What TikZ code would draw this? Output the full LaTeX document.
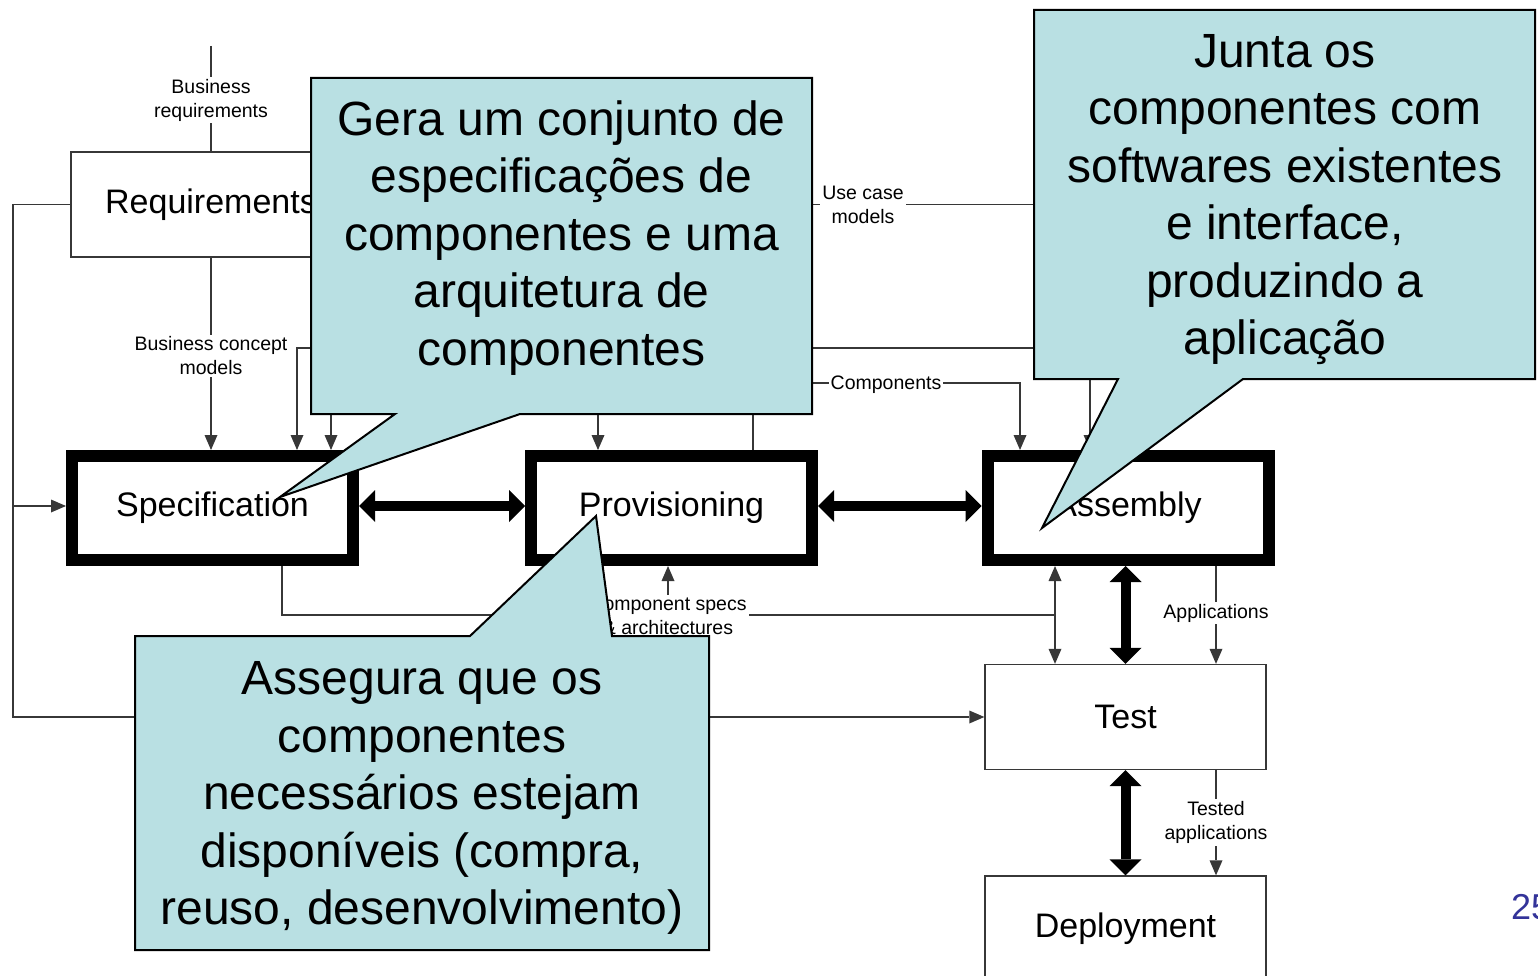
\documentclass[tikz,border=0pt]{standalone}
\usepackage{fontspec}
\setmainfont{Liberation Sans}
\usetikzlibrary{arrows.meta}
\definecolor{callfill}{RGB}{185,224,227}
\definecolor{linegray}{RGB}{55,55,55}
\definecolor{pagenum}{RGB}{51,51,153}
\begin{document}
\begin{tikzpicture}[x=1pt,y=-1pt,
  thinbox/.style={draw=linegray, line width=1.3pt, fill=white, rectangle, minimum width=281pt, minimum height=105pt, inner sep=0pt, font=\fontsize{34}{40}\selectfont},
  thickbox/.style={draw=black, line width=12pt, fill=white, rectangle, minimum width=281pt, minimum height=104pt, inner sep=0pt, font=\fontsize{34}{40}\selectfont},
  flow/.style={draw=linegray, line width=1.3pt},
  flowarrow/.style={flow, -{Triangle[width=13pt,length=15pt,line width=0pt]}},
  bigarrow/.style={draw=black, line width=10pt, {Triangle[width=32pt,length=16pt,line width=0pt]}-{Triangle[width=32pt,length=16pt,line width=0pt]}},
  lbl/.style={fill=white, inner sep=2pt, align=center, font=\fontsize{19.5}{24}\selectfont},
  callout/.style={fill=callfill, draw=black, line width=2pt, line join=miter},
  callouttext/.style={align=center, inner sep=0pt, font=\fontsize{48}{57.5}\selectfont},
]
\useasboundingbox (0,0) rectangle (1538,976);
\clip (0,0) rectangle (1538,976);

% boxes
\node[thinbox, minimum width=280pt] (req) at (211,204.5) {Requirements};
\node[thickbox] (spec) at (212.5,508) {Specification};
\node[thickbox] (prov) at (671.5,508) {Provisioning};
\node[thickbox] (asm) at (1128,508) {Assembly};
\node[thinbox] (test) at (1125.5,717) {Test};
\node[thinbox] (dep) at (1125.5,928.5) {Deployment};

% helper coordinates
\coordinate (brtop) at (211,46);
\coordinate (lft) at (13,0);
\coordinate (uc) at (1090,0);
\coordinate (ucy) at (0,348);
\coordinate (s2) at (297,0);
\coordinate (ea1) at (331,300);
\coordinate (ea2) at (598,300);
\coordinate (cp) at (753,0);
\coordinate (cpy) at (0,383);
\coordinate (ca) at (1020,0);
\coordinate (cs) at (282,0);
\coordinate (csy) at (0,615);
\coordinate (ct) at (1055,0);
\coordinate (pc) at (668,0);
\coordinate (ap) at (1216,0);
\coordinate (sy) at (0,506);

% thin flows
\draw[flow] (brtop) -- (req.north);
\draw[flowarrow] (req.south) -- (req.south |- spec.north);
\draw[flowarrow] (req.west) -| (lft |- test.west) -- (test.west);
\draw[flowarrow] (lft |- sy) -- (spec.west |- sy);
\draw[flowarrow] (req.east) -| (uc |- asm.north);
\draw[flowarrow] (uc |- ucy) -| (s2 |- spec.north);
\draw[flowarrow] (ea1) -- (ea1 |- spec.north);
\draw[flowarrow] (ea2) -- (ea2 |- prov.north);
\draw[flowarrow] (cp |- prov.north) |- (ca |- cpy) -- (ca |- asm.north);
\draw[flow] (cs |- spec.south) |- (ct |- csy);
\draw[flowarrow] (ct |- csy) -- (ct |- asm.south);
\draw[flowarrow] (ct |- csy) -- (ct |- test.north);
\draw[flowarrow] (pc |- csy) -- (pc |- prov.south);
\draw[flowarrow] (ap |- asm.south) -- (ap |- test.north);
\draw[flowarrow] (ap |- test.south) -- (ap |- dep.north);

% labels
\node[lbl] (lbr) at (211,100) {Business\\requirements};
\node[lbl] (lbc) at (211,356) {Business concept\\models};
\node[lbl] (luc) at (863,205) {Use case\\models};
\node[lbl] (lco) at (886,385) {Components};
\node[lbl] (lcs) at (668,616) {Component specs\\\& architectures};
\node[lbl] (lap) at (1216,613) {Applications};
\node[lbl] (lta) at (1216,822.5) {Tested\\applications};

% thick arrows
\draw[bigarrow] (spec.east |- sy) -- (prov.west |- sy);
\draw[bigarrow] (prov.east |- sy) -- (asm.west |- sy);
\draw[bigarrow] (asm.south -| test.north) -- (test.north);
\draw[bigarrow] (test.south) -- (dep.north);

% callouts
\draw[callout] (311,78) -- (812,78) -- (812,414) -- (520,414) -- (280,497) -- (395,414) -- (311,414) -- cycle;
\node[callouttext] (c1) at (561.5,238) {Gera um conjunto de\\especificações de\\componentes e uma\\arquitetura de\\componentes};
\draw[callout] (1034,10) -- (1535,10) -- (1535,379) -- (1243,379) -- (1042,528) -- (1118,379) -- (1034,379) -- cycle;
\node[callouttext] (c2) at (1285,199.5) {Junta os\\componentes com\\softwares existentes\\e interface,\\produzindo a\\aplicação};
\draw[callout] (135,636) -- (470,636) -- (596,516) -- (612,636) -- (709,636) -- (709,950) -- (135,950) -- cycle;
\node[callouttext] (c3) at (422,798) {Assegura que os\\componentes\\necessários estejam\\disponíveis (compra,\\reuso, desenvolvimento)};

% page number
\node[anchor=base west, inner sep=0pt, text=pagenum, font=\fontsize{36}{40}\selectfont] (pg) at (1511,919) {25};
\end{tikzpicture}
\end{document}
